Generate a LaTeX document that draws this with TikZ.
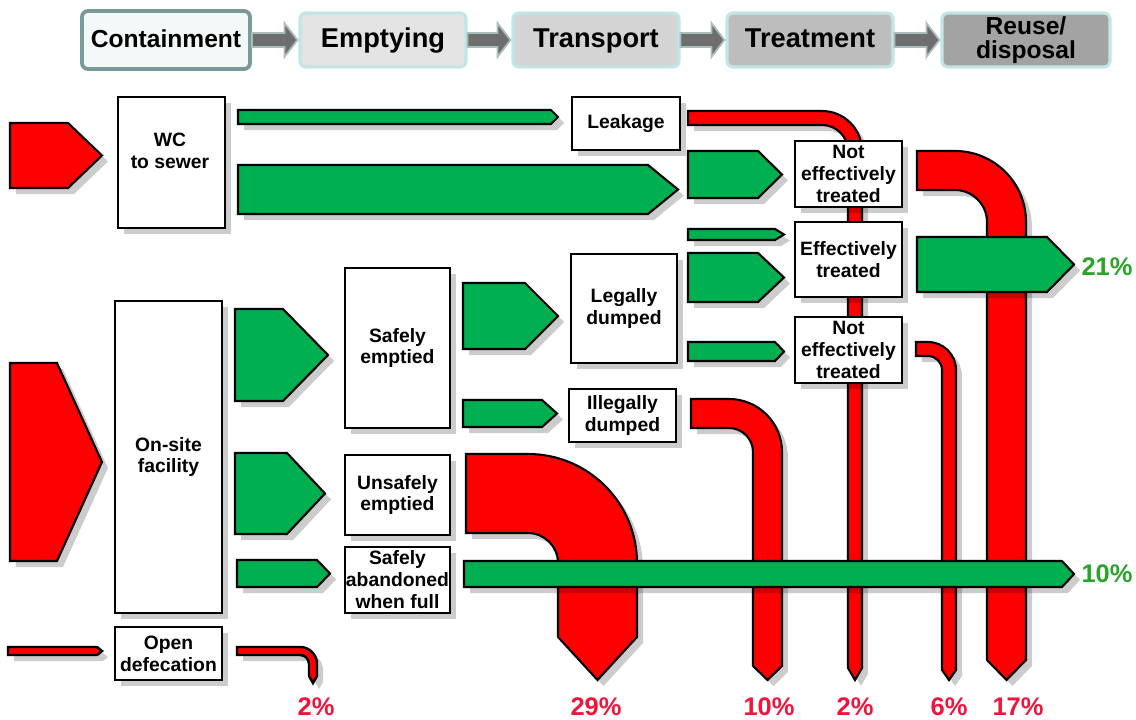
\documentclass[tikz,border=0pt]{standalone}
\usepackage{fontspec}
\setmainfont{Liberation Sans}
\usetikzlibrary{shadows,calc}
\definecolor{pred}{HTML}{FF0000}
\definecolor{pgreen}{HTML}{00B050}
\definecolor{lblred}{HTML}{F0143C}
\definecolor{lblgreen}{HTML}{29A329}
\definecolor{contfill}{HTML}{F3F8F8}
\definecolor{contdraw}{HTML}{7A9999}
\definecolor{glow}{HTML}{C2E6E6}
\definecolor{empfill}{HTML}{E4E4E4}
\definecolor{trafill}{HTML}{D4D4D4}
\definecolor{trefill}{HTML}{BDBDBD}
\definecolor{reufill}{HTML}{A3A3A3}
\definecolor{arrfill}{HTML}{6E6E6E}
\definecolor{arrdraw}{HTML}{A9BDBD}
\tikzset{
 shad/.style={drop shadow={shadow xshift=0.12cm, shadow yshift=-0.12cm, fill=black, opacity=0.2}},
 redflow/.style={shad, draw=black, line width=1.2pt, fill=pred},
 redthin/.style={shad, draw=black, line width=1.4pt, fill=pred},
 greenflow/.style={shad, draw=black, line width=1.2pt, fill=pgreen},
 box/.style={shad, draw=black, line width=0.8pt, fill=white, inner sep=0pt, align=center, font=\fontsize{11}{12.5}\selectfont\bfseries},
 boxtext/.style={inner sep=0pt, align=center, font=\fontsize{11}{12.5}\selectfont\bfseries},
 topbox/.style={rounded corners=0.12cm, inner sep=0pt, align=center, font=\fontsize{15.5}{13.6}\selectfont\bfseries},
 topsmall/.style={font=\fontsize{14}{13.6}\selectfont\bfseries},
 oneline/.style={text height=1.0em, text depth=0.2em},
 grayarr/.style={fill=arrfill, draw=arrdraw, line width=1pt},
 pctr/.style={inner sep=0pt, text=lblred, font=\fontsize{14.5}{17}\selectfont\bfseries},
 pctg/.style={inner sep=0pt, text=lblgreen, font=\fontsize{14.5}{17}\selectfont\bfseries},
}
% pentagon flow arrow: style, x1, y1, xb, x2, y2
\newcommand\parr[6]{\draw[#1] (#2,#3) -- (#4,#3) -- (#5,{(#3+#6)/2}) -- (#4,#6) -- (#2,#6) -- cycle;}
% elbow pipe: style, x0, ytop, ybot, cx, cy, ybody, ytip
\newcommand\elbow[8]{%
 \pgfmathsetmacro\eR{#6-#3}\pgfmathsetmacro\eI{#6-#4}%
 \draw[#1] (#2,#3) -- (#5,#3) .. controls ({#5+0.5523*\eR},#3) and ({#5+\eR},{#6-0.5523*\eR}) .. ({#5+\eR},#6)
 -- ({#5+\eR},#7) -- ({#5+(\eR+\eI)/2},#8) -- ({#5+\eI},#7) -- ({#5+\eI},#6)
 .. controls ({#5+\eI},{#6-0.5523*\eI}) and ({#5+0.5523*\eI},#4) .. (#5,#4) -- (#2,#4) -- cycle;}
% box node: name, x1, y1, x2, y2, style, text
\newcommand\pbox[7]{\node[#6, minimum width={(#4-#2)*0.02cm}, minimum height={(#5-#3)*0.02cm}] (#1) at ({(#2+#4)/2},{(#3+#5)/2}) {#7};}
% top bar arrow between nodes
\newcommand\tarr[2]{\draw[grayarr] ($(#1.east)+(0,-7)$) -- ($(#2.west)+(-14,-7)$) -- ($(#2.west)+(-14,-17)$) -- ($(#2.west)+(-1,0)$) -- ($(#2.west)+(-14,17)$) -- ($(#2.west)+(-14,7)$) -- ($(#1.east)+(0,7)$) -- cycle;}
\begin{document}
\begin{tikzpicture}[x=0.02cm, y=-0.02cm]
\useasboundingbox (0,0) rectangle (1136,720);

% ---------- top bar ----------
\pbox{cont}{82}{11}{250}{69}{topbox, topsmall, oneline, draw=contdraw, line width=2.2pt, fill=contfill}{Containment}
\pbox{emp}{300}{13}{466}{67}{topbox, oneline, draw=glow, line width=1.8pt, fill=empfill}{Emptying}
\pbox{tra}{513}{13}{679}{67}{topbox, oneline, draw=glow, line width=1.8pt, fill=trafill}{Transport}
\pbox{tre}{727}{13}{893}{67}{topbox, oneline, draw=glow, line width=1.8pt, fill=trefill}{Treatment}
\pbox{reu}{942}{13}{1110}{67}{topbox, topsmall, draw=glow, line width=1.8pt, fill=reufill}{Reuse/\\disposal}
\tarr{cont}{emp}
\tarr{emp}{tra}
\tarr{tra}{tre}
\tarr{tre}{reu}

% ---------- red pipes (behind) ----------
\elbow{redflow}{688}{111}{125}{822}{151}{668}{680}   % leakage 2%
\elbow{redflow}{917}{151}{190}{955}{222}{660}{680}   % 17%
\elbow{redflow}{916}{342}{356}{928}{370}{670}{680}   % 6%
\elbow{redflow}{691}{399}{428}{729}{452}{666}{680}   % 10%
\elbow{redflow}{466}{454}{533}{528}{563}{637}{680}   % 29%
\elbow{redthin}{237}{647}{655}{300}{664}{676}{683}   % open defecation 2%

% ---------- left inputs ----------
\parr{redflow}{10}{123}{68}{102}{188}
\parr{redflow}{10}{363}{57}{102}{561}
\parr{redthin}{8}{647}{97}{102}{655}

% ---------- boxes ----------
\pbox{wc}{118}{97}{225}{228}{box}{}
\node[boxtext] (wct) at (170,151) {WC\\to sewer};
\pbox{leak}{572}{97}{680}{150}{box}{Leakage}
\pbox{neta}{795}{141}{902}{207}{box}{Not\\effectively\\treated}
\pbox{et}{795}{222}{902}{297}{box}{Effectively\\treated}
\pbox{netb}{795}{317}{902}{383}{box}{Not\\effectively\\treated}
\pbox{se}{345}{268}{450}{428}{box}{Safely\\emptied}
\pbox{ld}{571}{254}{677}{363}{box}{Legally\\dumped}
\pbox{id}{569}{389}{676}{442}{box}{Illegally\\dumped}
\pbox{os}{115}{301}{222}{613}{box}{On-site\\facility}
\pbox{ue}{345}{455}{450}{535}{box}{Unsafely\\emptied}
\pbox{sa}{345}{547}{450}{613}{box}{Safely\\abandoned\\when full}
\pbox{od}{115}{627}{222}{680}{box}{Open\\defecation}

% ---------- green flows ----------
\parr{greenflow}{238}{110}{551}{558}{124}
\parr{greenflow}{238}{165}{648}{678}{214}
\parr{greenflow}{688}{151}{758}{782}{198}
\parr{greenflow}{688}{229}{775}{784}{240}
\parr{greenflow}{688}{253}{758}{784}{302}
\parr{greenflow}{688}{342}{775}{784}{361}
\parr{greenflow}{917}{237}{1047}{1074}{292}
\parr{greenflow}{235}{309}{283}{328}{401}
\parr{greenflow}{235}{453}{287}{325}{534}
\parr{greenflow}{237}{560}{317}{330}{587}
\parr{greenflow}{463}{283}{525}{558}{349}
\parr{greenflow}{463}{400}{542}{557}{427}
\parr{greenflow}{464}{561}{1062}{1074}{587}

% ---------- labels ----------
\node[pctg] (l21) at (1107,267) {21\%};
\node[pctg] (l10g) at (1107,574) {10\%};
\node[pctr] (la) at (316,707) {2\%};
\node[pctr] (lb) at (596,707) {29\%};
\node[pctr] (lc) at (769,707) {10\%};
\node[pctr] (ld2) at (855,707) {2\%};
\node[pctr] (le) at (949,707) {6\%};
\node[pctr] (lf) at (1018,707) {17\%};
\end{tikzpicture}
\end{document}
